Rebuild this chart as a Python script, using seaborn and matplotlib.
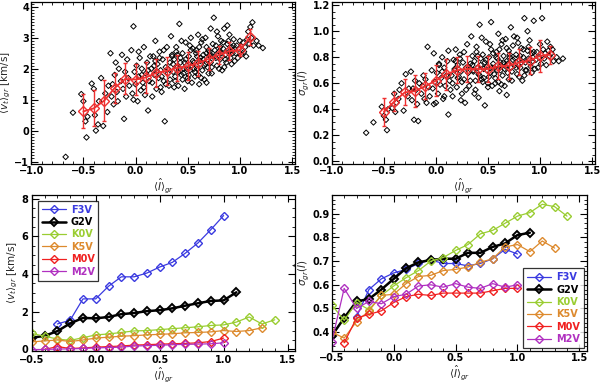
import numpy as np
import pandas as pd
import matplotlib
matplotlib.use('Agg')
import matplotlib.pyplot as plt
import seaborn as sns
from matplotlib.ticker import AutoMinorLocator, MultipleLocator

# individual stars: <I>_gr, <v_t>_gr [km/s], sigma_gr(I)
star_x = [-0.67, -0.60, -0.52, -0.50, -0.47, -0.48, -0.46,
          -0.42, -0.40, -0.39, -0.38, -0.36, -0.35, -0.33, -0.31, -0.29, -0.27, -0.26,
          -0.24, -0.23, -0.22, -0.21, -0.20, -0.19, -0.18, -0.17, -0.16, -0.14, -0.13, -0.12, -0.11, -0.10, -0.09, -0.08, -0.07, -0.06,
          -0.04, -0.03, -0.02, -0.01, 0.00, 0.01, 0.02, 0.03, 0.04, 0.05, 0.06, 0.07, 0.08, 0.09, 0.10, 0.11, 0.12, 0.13, 0.14, -0.02, 0.03, 0.08, 0.12, 0.06,
          0.15, 0.16, 0.17, 0.18, 0.19, 0.20, 0.21, 0.22, 0.23, 0.24, 0.25, 0.26, 0.27, 0.28, 0.29, 0.30, 0.31, 0.32, 0.33, 0.34, 0.16, 0.18, 0.21, 0.23, 0.25, 0.27, 0.29, 0.31, 0.33, 0.35, 0.19, 0.24,
          0.36, 0.37, 0.38, 0.39, 0.40, 0.41, 0.42, 0.43, 0.44, 0.45, 0.46, 0.47, 0.48, 0.49, 0.50, 0.51, 0.52, 0.53, 0.54, 0.55, 0.36, 0.38, 0.40, 0.42, 0.44, 0.46, 0.48, 0.50, 0.52, 0.54, 0.37, 0.39, 0.41, 0.43, 0.45, 0.47, 0.49, 0.51, 0.53, 0.35,
          0.56, 0.57, 0.58, 0.59, 0.60, 0.61, 0.62, 0.63, 0.64, 0.65, 0.66, 0.67, 0.68, 0.69, 0.70, 0.71, 0.72, 0.73, 0.74, 0.75, 0.56, 0.58, 0.60, 0.62, 0.64, 0.66, 0.68, 0.70, 0.72, 0.74, 0.57, 0.59, 0.61, 0.63, 0.65, 0.67, 0.69, 0.71, 0.73, 0.55, 0.62, 0.68,
          0.76, 0.77, 0.78, 0.79, 0.80, 0.81, 0.82, 0.83, 0.84, 0.85, 0.86, 0.87, 0.88, 0.89, 0.90, 0.91, 0.92, 0.93, 0.94, 0.95, 0.76, 0.78, 0.80, 0.82, 0.84, 0.86, 0.88, 0.90, 0.92, 0.94, 0.77, 0.81, 0.85, 0.89, 0.93,
          0.96, 0.97, 0.98, 0.99, 1.00, 1.01, 1.02, 1.03, 1.04, 1.05, 1.06, 1.07, 1.08, 1.09, 1.10, 1.11, 1.12, 1.13,
          1.16, 1.18, 1.22]
star_v = [-0.85, 0.58, 1.18, 0.95, -0.22, 0.3, 0.45,
          1.52, 1.35, 0.5, 0.0, 0.2, 0.95, 1.7, 0.15, 1.2, 0.6, 1.45,
          2.5, 1.1, 1.5, 0.85, 1.8, 2.2, 1.25, 0.95, 2.0, 1.6, 2.45, 1.35, 0.38, 1.9, 1.1, 2.3, 1.7, 1.45,
          2.6, 1.2, 3.37, 1.9, 1.5, 2.1, 0.95, 1.75, 2.35, 1.3, 2.0, 1.55, 2.7, 1.15, 1.85, 2.2, 0.65, 1.6, 2.4, 1.0, 2.55, 1.4, 1.95, 1.8,
          2.0, 1.55, 2.4, 1.8, 2.9, 1.35, 2.15, 1.7, 2.55, 1.95, 1.25, 2.3, 1.6, 0.3, 2.05, 2.7, 1.85, 1.45, 2.2, 3.05, 1.1, 2.1, 1.9, 2.35, 1.75, 2.6, 1.5, 2.0, 1.65, 2.45, 2.25, 1.4,
          1.9, 2.3, 1.6, 2.7, 2.05, 1.45, 3.45, 2.2, 1.8, 2.5, 2.0, 1.35, 2.85, 2.1, 1.7, 2.4, 1.95, 2.6, 1.55, 2.25, 2.15, 1.75, 2.45, 2.0, 2.9, 1.85, 2.3, 1.6, 2.75, 2.1, 1.4, 2.55, 1.9, 2.35, 1.65, 2.2, 2.0, 1.8, 3.0, 2.4,
          2.2, 1.75, 2.6, 2.0, 3.1, 1.5, 2.35, 2.85, 1.95, 2.45, 1.65, 2.15, 2.7, 2.3, 1.85, 2.55, 3.3, 2.05, 2.4, 3.65, 2.0, 2.5, 1.8, 2.25, 2.95, 2.1, 1.55, 2.6, 2.2, 2.8, 1.9, 2.4, 2.7, 1.7, 2.3, 3.0, 2.05, 2.45, 1.85, 2.65, 2.15, 2.5,
          2.4, 2.75, 2.1, 3.05, 2.55, 2.3, 2.9, 1.95, 2.65, 3.3, 2.45, 2.2, 2.8, 2.6, 3.1, 2.35, 2.7, 2.5, 2.95, 2.25, 2.6, 3.2, 2.0, 2.5, 2.85, 2.3, 3.4, 2.55, 2.15, 2.75, 2.35, 2.7, 2.05, 2.9, 2.6,
          2.5, 2.75, 2.35, 2.65, 2.9, 2.45, 2.6, 2.85, 2.55, 2.7, 2.4, 2.95, 3.2, 2.8, 3.35, 3.0, 3.5, 2.75,
          2.9, 2.75, 2.67]
star_sig = [0.22, 0.30, 0.42, 0.35, 0.24, 0.32, 0.40,
            0.41, 0.52, 0.38, 0.45, 0.48, 0.55, 0.60, 0.39, 0.67, 0.50, 0.56,
            0.69, 0.47, 0.56, 0.32, 0.62, 0.55, 0.44, 0.31, 0.60, 0.52, 0.58, 0.66, 0.48, 0.63, 0.45, 0.88, 0.57, 0.50,
            0.70, 0.56, 0.83, 0.61, 0.45, 0.68, 0.52, 0.74, 0.59, 0.64, 0.80, 0.48, 0.72, 0.58, 0.66, 0.77, 0.36, 0.62, 0.55, 0.44, 0.75, 0.50, 0.85, 0.69,
            0.66, 0.60, 0.78, 0.71, 0.86, 0.57, 0.74, 0.65, 0.82, 0.69, 0.52, 0.76, 0.63, 0.45, 0.72, 0.90, 0.68, 0.58, 0.75, 0.96, 0.50, 0.70, 0.64, 0.79, 0.61, 0.84, 0.55, 0.73, 0.62, 0.81, 0.77, 0.47,
            0.70, 0.77, 0.55, 0.88, 0.72, 0.49, 1.05, 0.74, 0.63, 0.82, 0.71, 0.43, 0.92, 0.73, 0.60, 0.80, 0.68, 0.86, 0.58, 0.75, 0.69, 0.62, 0.81, 0.66, 0.95, 0.64, 0.78, 0.57, 0.90, 0.72, 0.52, 0.84, 0.67, 0.79, 0.61, 0.76, 0.70, 0.65, 1.07, 0.74,
            0.72, 0.60, 0.84, 0.70, 0.98, 0.54, 0.76, 0.90, 0.66, 0.81, 0.58, 0.73, 0.87, 0.75, 0.63, 0.82, 1.03, 0.69, 0.78, 0.96, 0.67, 0.80, 0.61, 0.74, 0.93, 0.71, 0.51, 0.85, 0.72, 0.89, 0.64, 0.79, 0.86, 0.59, 0.76, 0.94, 0.68, 0.80, 0.62, 0.83, 0.70, 0.77,
            0.74, 0.82, 0.67, 0.91, 0.78, 0.72, 0.87, 0.62, 0.80, 1.10, 0.76, 0.70, 0.85, 0.79, 0.93, 0.73, 0.83, 0.77, 1.08, 0.71, 0.79, 0.95, 0.65, 0.76, 0.86, 0.70, 1.00, 0.78, 0.68, 0.84, 0.72, 0.81, 0.66, 0.88, 0.80,
            0.78, 0.84, 0.72, 0.80, 0.90, 0.75, 1.10, 0.86, 0.79, 0.83, 0.74, 0.92, 0.85, 0.81, 0.88, 0.83, 0.86, 0.77,
            0.80, 0.77, 0.79]

# binned means for G2V (red points with error bars)
bin_x = [-0.5, -0.4, -0.3, -0.2, -0.1, 0.0, 0.1, 0.2, 0.3, 0.4, 0.5, 0.6, 0.7, 0.8, 0.9, 1.0, 1.1]
bin_v = [0.62, 0.72, 0.97, 1.38, 1.67, 1.65, 1.72, 1.87, 1.93, 2.03, 2.08, 2.18, 2.32, 2.45, 2.57, 2.60, 3.03]
bin_v_err = [0.55, 0.58, 0.65, 0.48, 0.50, 0.50, 0.50, 0.45, 0.45, 0.42, 0.45, 0.40, 0.35, 0.30, 0.28, 0.20, 0.25]
bin_sig = [0.38, 0.46, 0.53, 0.54, 0.58, 0.62, 0.67, 0.70, 0.71, 0.71, 0.71, 0.73, 0.735, 0.76, 0.775, 0.81, 0.82]
bin_sig_err = [0.11, 0.07, 0.10, 0.12, 0.10, 0.12, 0.12, 0.10, 0.10, 0.10, 0.10, 0.10, 0.10, 0.10, 0.10, 0.12, 0.07]

# per spectral type curves
types = ['F3V', 'G2V', 'K0V', 'K5V', 'M0V', 'M2V']
colors = ['#3a3ae0', 'black', '#9acd32', '#dd8a2e', '#f02020', '#b030c0']
type_x = {
    'F3V': [-0.3, -0.2, -0.1, 0.0, 0.1, 0.2, 0.3, 0.4, 0.5, 0.6, 0.7, 0.8, 0.9, 1.0],
    'G2V': bin_x,
    'K0V': [-0.5, -0.4, -0.3, -0.2, -0.1, 0.0, 0.1, 0.2, 0.3, 0.4, 0.5, 0.6, 0.7, 0.8, 0.9, 1.0, 1.1, 1.2, 1.3, 1.4],
    'K5V': [-0.5, -0.4, -0.3, -0.2, -0.1, 0.0, 0.1, 0.2, 0.3, 0.4, 0.5, 0.6, 0.7, 0.8, 0.9, 1.0, 1.1, 1.2, 1.3],
    'M0V': [-0.4, -0.3, -0.2, -0.1, 0.0, 0.1, 0.2, 0.3, 0.4, 0.5, 0.6, 0.7, 0.8, 0.9, 1.0],
    'M2V': [-0.5, -0.4, -0.3, -0.2, -0.1, 0.0, 0.1, 0.2, 0.3, 0.4, 0.5, 0.6, 0.7, 0.8, 0.9, 1.0],
}
type_v = {
    'F3V': [1.35, 1.55, 2.68, 2.68, 3.35, 3.85, 3.85, 4.05, 4.37, 4.62, 5.1, 5.65, 6.35, 7.1],
    'G2V': bin_v,
    'K0V': [0.85, 0.7, 0.55, 0.48, 0.62, 0.77, 0.82, 0.9, 0.98, 1.0, 1.05, 1.1, 1.15, 1.2, 1.27, 1.3, 1.45, 1.72, 1.35, 1.57],
    'K5V': [0.4, 0.45, 0.5, 0.42, 0.5, 0.6, 0.65, 0.7, 0.73, 0.77, 0.8, 0.83, 0.88, 0.9, 0.93, 1.0, 0.95, 1.0, 1.15],
    'M0V': [0.0, 0.15, 0.05, 0.08, 0.12, 0.15, 0.18, 0.23, 0.25, 0.28, 0.3, 0.32, 0.35, 0.42, 0.6],
    'M2V': [-0.02, 0.0, 0.02, 0.03, 0.05, 0.08, 0.1, 0.12, 0.18, 0.2, 0.22, 0.25, 0.27, 0.28, 0.3, 0.35],
}
type_sig = {
    'F3V': [0.465, 0.58, 0.625, 0.65, 0.665, 0.69, 0.705, 0.69, 0.69, 0.68, 0.69, 0.71, 0.75, 0.73],
    'G2V': [0.385, 0.46, 0.53, 0.54, 0.58, 0.625, 0.67, 0.695, 0.705, 0.71, 0.71, 0.735, 0.735, 0.76, 0.775, 0.81, 0.82],
    'K0V': [0.515, 0.45, 0.525, 0.495, 0.555, 0.595, 0.63, 0.66, 0.70, 0.715, 0.745, 0.77, 0.815, 0.83, 0.86, 0.89, 0.905, 0.94, 0.93, 0.89],
    'K5V': [0.40, 0.375, 0.445, 0.49, 0.555, 0.56, 0.605, 0.635, 0.64, 0.66, 0.665, 0.675, 0.695, 0.71, 0.76, 0.77, 0.74, 0.785, 0.755],
    'M0V': [0.355, 0.46, 0.475, 0.49, 0.525, 0.55, 0.56, 0.555, 0.565, 0.565, 0.565, 0.565, 0.575, 0.585, 0.585],
    'M2V': [0.36, 0.585, 0.50, 0.53, 0.52, 0.55, 0.56, 0.595, 0.60, 0.59, 0.605, 0.59, 0.585, 0.605, 0.59, 0.60],
}

sns.set_theme(style='ticks')
plt.rcParams['font.family'] = ['DejaVu Sans']
plt.rcParams['mathtext.fontset'] = 'dejavusans'
plt.rcParams.update({
    'xtick.direction': 'in', 'ytick.direction': 'in',
    'xtick.top': True, 'ytick.right': True,
    'xtick.major.size': 5, 'ytick.major.size': 5,
    'xtick.minor.size': 2.5, 'ytick.minor.size': 2.5,
    'xtick.major.width': 0.8, 'ytick.major.width': 0.8,
    'xtick.minor.width': 0.6, 'ytick.minor.width': 0.6,
    'axes.linewidth': 0.9, 'axes.edgecolor': 'black',
    'xtick.color': 'black', 'ytick.color': 'black',
    'xtick.labelsize': 7, 'ytick.labelsize': 7,
})

fig = plt.figure(figsize=(6, 3.85), dpi=100)
ax1 = fig.add_axes([0.052, 0.574, 0.440, 0.421])
ax2 = fig.add_axes([0.553, 0.574, 0.439, 0.421])
ax3 = fig.add_axes([0.053, 0.088, 0.439, 0.406])
ax4 = fig.add_axes([0.553, 0.088, 0.425, 0.406])

xlab = r'$\langle\hat{I}\rangle_{gr}$'
stars = pd.DataFrame({'x': star_x, 'v': star_v, 'sig': star_sig})

# top panels: scatter of stars + binned means
for ax, col, by, be in [(ax1, 'v', bin_v, bin_v_err), (ax2, 'sig', bin_sig, bin_sig_err)]:
    sns.scatterplot(data=stars, x='x', y=col, ax=ax, marker='D', s=8,
                    facecolor='none', edgecolor='black', linewidth=0.7)
    ax.errorbar(bin_x, by, yerr=be, fmt='none', ecolor='#ee3030', elinewidth=1.0,
                capsize=1.5, zorder=3)
    sns.lineplot(x=bin_x, y=by, ax=ax, color='#ee3030', lw=1.3, marker='D',
                 markersize=5, markerfacecolor='none', markeredgecolor='#ee3030',
                 markeredgewidth=1.0, zorder=4)
    ax.set_xlabel(xlab, fontsize=7.5, labelpad=0)
    ax.set_xlim(-1.0, 1.53)
    ax.xaxis.set_major_locator(MultipleLocator(0.5))

ax1.set_ylim(-1.08, 4.16)
ax1.yaxis.set_major_locator(MultipleLocator(1))
ax1.yaxis.set_minor_locator(AutoMinorLocator(10))
ax1.set_ylabel(r'$\langle v_t\rangle_{gr}$ [km/s]', fontsize=7.5, labelpad=1)
ax2.set_ylim(-0.02, 1.225)
ax2.yaxis.set_major_locator(MultipleLocator(0.2))
ax2.yaxis.set_minor_locator(AutoMinorLocator(4))
ax2.set_ylabel(r'$\sigma_{gr}(\hat{I})$', fontsize=7.5, labelpad=1)

# bottom panels: per spectral type curves
for ax, vals in [(ax3, type_v), (ax4, type_sig)]:
    for t, c in zip(types, colors):
        lw = 1.8 if t == 'G2V' else 0.9
        sns.lineplot(x=type_x[t], y=vals[t], ax=ax, color=c, lw=lw, marker='D',
                     markersize=4.5, markerfacecolor='none', markeredgecolor=c,
                     markeredgewidth=1.0 if t != 'G2V' else 1.4, label=t)
    ax.set_xlim(-0.5, 1.56)
    ax.xaxis.set_major_locator(MultipleLocator(0.5))
    ax.set_xlabel(xlab, fontsize=7.5, labelpad=0)

ax3.set_ylim(-0.09, 8.2)
ax3.yaxis.set_major_locator(MultipleLocator(2))
ax3.yaxis.set_minor_locator(AutoMinorLocator(4))
ax3.set_ylabel(r'$\langle v_t\rangle_{gr}$ [km/s]', fontsize=7.5, labelpad=1)
ax4.set_ylim(0.32, 0.98)
ax4.yaxis.set_major_locator(MultipleLocator(0.1))
ax4.yaxis.set_minor_locator(AutoMinorLocator(5))
ax4.set_ylabel(r'$\sigma_{gr}(\hat{I})$', fontsize=7.5, labelpad=1)

for ax, loc in [(ax3, 'upper left'), (ax4, 'lower right')]:
    leg = ax.legend(loc=loc, fontsize=7, labelcolor='linecolor', frameon=True,
                    fancybox=False, edgecolor='black', handlelength=2.5,
                    borderpad=0.4, labelspacing=0.25, handletextpad=0.5,
                    borderaxespad=0.6 if loc == 'upper left' else 0.3)
    leg.get_frame().set_linewidth(0.9)
    for txt in leg.get_texts():
        txt.set_fontweight('bold')

for ax in (ax1, ax2, ax3, ax4):
    ax.xaxis.set_minor_locator(AutoMinorLocator(5))
    ax.tick_params(which='both', pad=1.5)
    for lab in ax.get_xticklabels() + ax.get_yticklabels():
        lab.set_fontweight('bold')
# keep the "0" and "-0.5" labels of the lower-left panel apart
ax3.tick_params(axis='x', which='both', pad=3)
ax3.tick_params(axis='y', which='both', pad=2.5)

fig.savefig('out.png', dpi=100)
